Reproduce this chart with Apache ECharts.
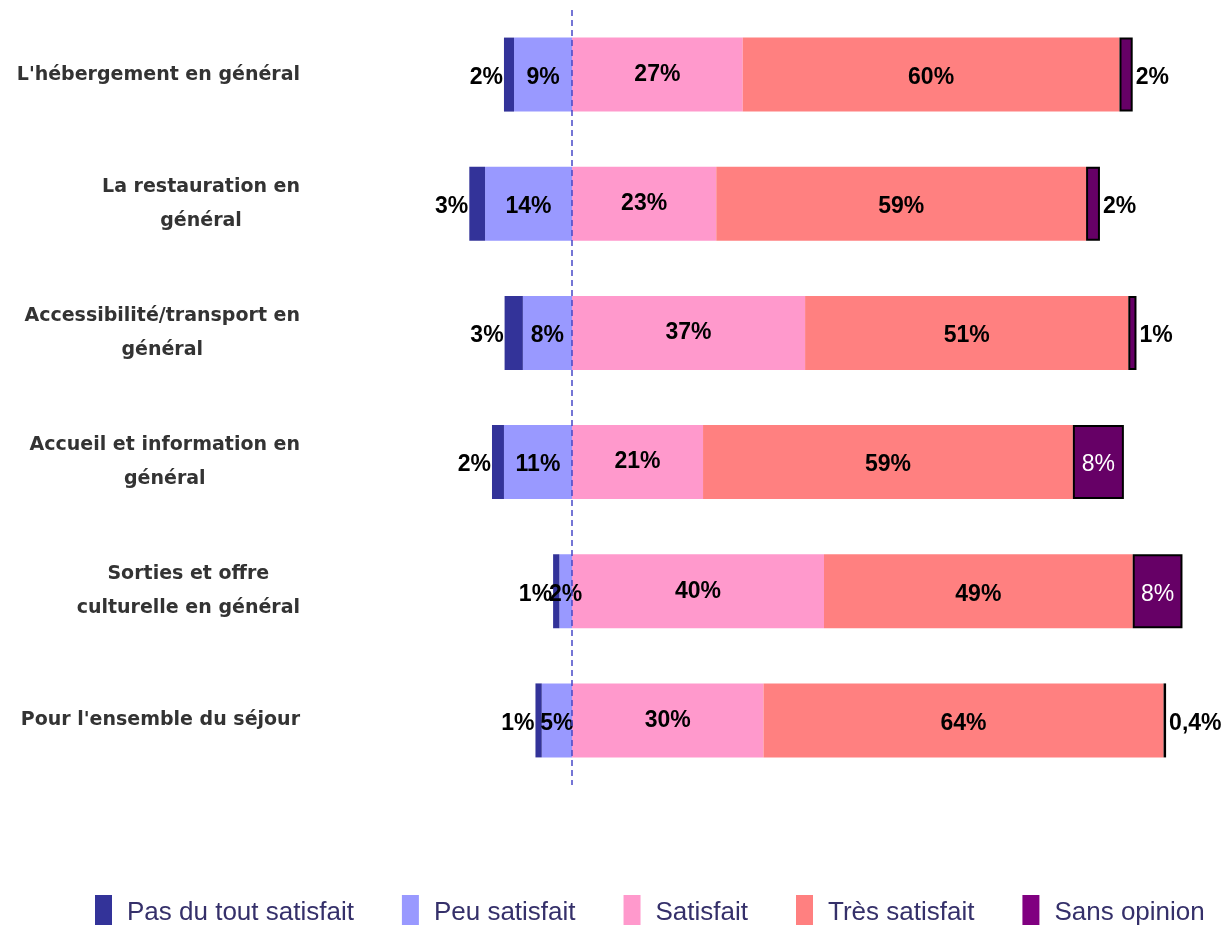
<!DOCTYPE html>
<html lang="fr">
<head>
    <meta charset="UTF-8">
    <title>Satisfaction</title>
    <script src="https://cdn.jsdelivr.net/npm/echarts@6/dist/echarts.min.js"></script>
</head>
<body style="margin:0">
<div id="main" style="width:1230px;height:925px"></div>
<script type="text/javascript">
    var categories = [
        "L'hébergement en général",
        "La restauration en\ngénéral",
        "Accessibilité/transport en\ngénéral",
        "Accueil et information en\ngénéral",
        "Sorties et offre\nculturelle en général",
        "Pour l'ensemble du séjour"
    ];
    // parts en %
    var pasDuTout = [1.6, 2.5, 2.9, 1.9, 1.0, 1.0];
    var peu = [9.2, 13.8, 7.8, 10.8, 2.0, 4.8];
    var satisfait = [27.1, 22.9, 37.0, 20.8, 40.0, 30.4];
    var tres = [59.8, 58.7, 51.3, 58.7, 49.0, 63.5];
    var sansOpinion = [2.1, 2.2, 1.3, 8.1, 7.9, 0.4];

    function fmt(p) {
        var v = Math.abs(p.value);
        if (v < 1) return v.toFixed(1).replace('.', ',') + '%';
        return Math.round(v) + '%';
    }

    var lbl = {show: true, formatter: fmt, color: '#000', fontWeight: 'bold', fontSize: 23, fontFamily: '"Liberation Sans"', offset: [0, 3]};

    var sansData = sansOpinion.map(function (v) {
        if (v > 5) return {value: v, label: {position: 'inside', color: '#fff', fontWeight: 'normal'}};
        return {value: v, label: {position: 'right', distance: 3}};
    });

    var option = {
        animation: false,
        grid: {left: 320, right: 28, top: 10, bottom: 140},
        xAxis: {type: 'value', min: -40, max: 100, show: false},
        yAxis: {
            type: 'category',
            inverse: true,
            data: categories,
            axisLine: {show: false},
            axisTick: {show: false},
            axisLabel: {
                margin: 20,
                align: 'right',
                formatter: function (v) {
                    return v.split('\n').map(function (l) { return '{c|' + l + '}'; }).join('\n');
                },
                rich: {
                    c: {align: 'center', fontSize: 19, fontWeight: 'bold', color: '#333', fontFamily: '"DejaVu Sans"', lineHeight: 34}
                }
            }
        },
        legend: {
            top: 890,
            left: 90,
            itemWidth: 17,
            itemHeight: 35,
            itemGap: 48,
            icon: 'rect',
            textStyle: {fontSize: 26, color: '#35306a', fontFamily: '"Liberation Sans"', padding: [0, 0, 0, 10]},
            data: ['Pas du tout satisfait', 'Peu satisfait', 'Satisfait', 'Très satisfait',
                {name: 'Sans opinion', itemStyle: {color: '#800080', borderWidth: 0}}]
        },
        series: [
            {
                name: 'Peu satisfait', type: 'bar', stack: 'a', barWidth: 74,
                data: peu.map(function (v) { return -v; }),
                itemStyle: {color: '#9999ff'},
                label: Object.assign({}, lbl, {position: 'inside'}),
                markLine: {
                    silent: true, symbol: 'none',
                    label: {show: false},
                    lineStyle: {type: [6, 4], color: '#4848c8', width: 1.5},
                    data: [{xAxis: 0}]
                }
            },
            {
                name: 'Pas du tout satisfait', type: 'bar', stack: 'a',
                data: pasDuTout.map(function (v) { return -v; }),
                itemStyle: {color: '#333399'},
                label: Object.assign({}, lbl, {position: 'left', distance: 1})
            },
            {
                name: 'Satisfait', type: 'bar', stack: 'a',
                data: satisfait,
                itemStyle: {color: '#ff99cc'},
                label: Object.assign({}, lbl, {position: 'inside', offset: [0, 0]})
            },
            {
                name: 'Très satisfait', type: 'bar', stack: 'a',
                data: tres,
                itemStyle: {color: '#ff8080'},
                label: Object.assign({}, lbl, {position: 'inside'})
            },
            {
                name: 'Sans opinion', type: 'bar', stack: 'a',
                data: sansData,
                itemStyle: {color: '#660066', borderColor: '#000', borderWidth: 2},
                label: lbl
            }
        ]
    };

    var myChart = echarts.init(document.getElementById('main'));
    myChart.setOption(option);
</script>
</body>
</html>
